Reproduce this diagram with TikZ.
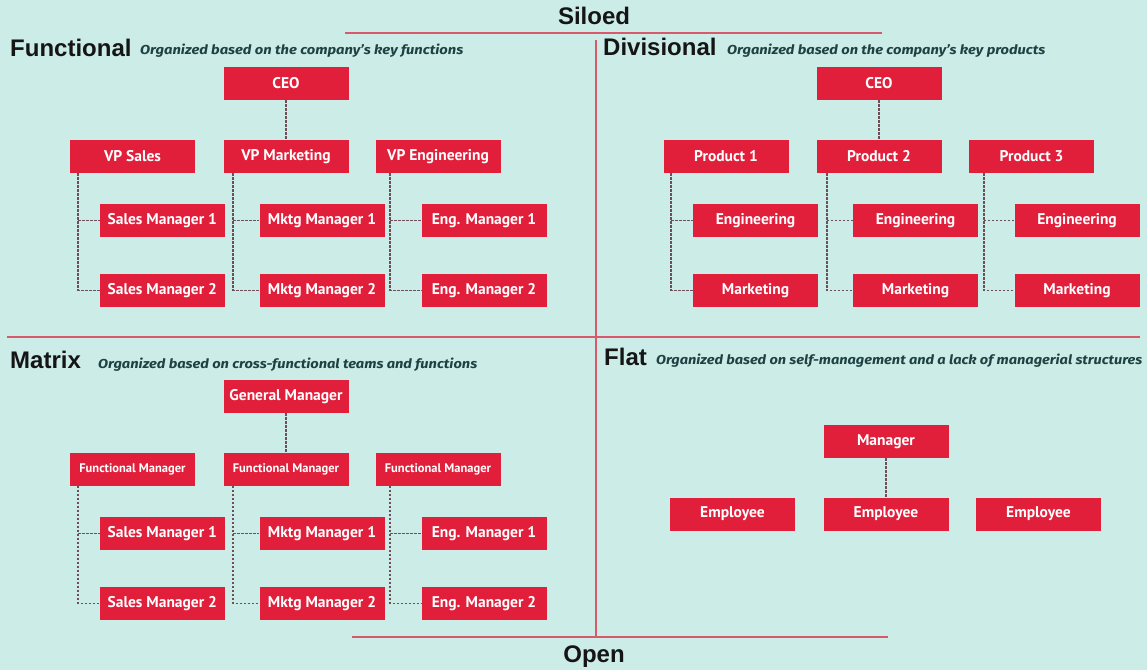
\documentclass[tikz,border=0pt]{standalone}
\usepackage{fontspec}
\newfontfamily\headfont{Liberation Sans}
\newfontfamily\boxfont{PT Sans}
\newfontfamily\subfont{Fira Sans}
\usetikzlibrary{calc}
\definecolor{bg}{HTML}{CCECE8}
\definecolor{boxred}{HTML}{E11F3B}
\definecolor{divline}{HTML}{D9596B}
\definecolor{conncol}{HTML}{6E4E58}
\definecolor{subcol}{HTML}{1E4242}
\definecolor{headcol}{HTML}{151515}
\begin{document}
\begin{tikzpicture}[x=1pt,y=-1pt,
 orgbox/.style={rectangle, fill=boxred, minimum width=125pt, minimum height=33pt, inner sep=0pt, text=white, font=\boxfont\bfseries\fontsize{15.5}{15.5}\selectfont},
 smallbox/.style={orgbox, font=\boxfont\bfseries\fontsize{12.5}{12.5}\selectfont},
 conn/.style={draw=conncol, line width=1.7pt, dash pattern=on 2.5pt off 1.5pt},
 divider/.style={draw=divline, line width=2pt},
 head/.style={anchor=base west, inner sep=0pt, text=headcol, font=\headfont\bfseries\fontsize{24}{24}\selectfont},
 sub/.style={anchor=base west, inner sep=0pt, text=subcol, font=\subfont\bfseries\itshape\fontsize{13}{13}\selectfont}]
\useasboundingbox (0,0) rectangle (1147,670);
\fill[bg] (0,0) rectangle (1147,670);

% dividers
\coordinate (topL) at (345,33);
\coordinate (topR) at (882,33);
\coordinate (vTop) at (596,40);
\coordinate (vBot) at (596,637);
\coordinate (midL) at (7,337);
\coordinate (midR) at (1140,337);
\coordinate (botL) at (352,637);
\coordinate (botR) at (888,637);
\draw[divider] (topL) -- (topR);
\draw[divider] (vTop) -- (vBot);
\draw[divider] (midL) -- (midR);
\draw[divider] (botL) -- (botR);

% titles
\node[anchor=base, inner sep=0pt, text=headcol, font=\headfont\bfseries\fontsize{24}{24}\selectfont] (siloed) at (594,24.5) {Siloed};
\node[anchor=base, inner sep=0pt, text=headcol, font=\headfont\bfseries\fontsize{24}{24}\selectfont] (open) at (594,662) {Open};

\node[head] (hFun) at (10,56) {Functional};
\node[sub] (sFun) at (140,54) {\resizebox{323pt}{\height}{Organized based on the company’s key functions}};
\node[head] (hDiv) at (603,55) {Divisional};
\node[sub] (sDiv) at (727,54) {\resizebox{318pt}{\height}{Organized based on the company’s key products}};
\node[head] (hMat) at (10,368) {Matrix};
\node[sub] (sMat) at (98,368) {\resizebox{379pt}{\height}{Organized based on cross-functional teams and functions}};
\node[head] (hFlat) at (604,365) {Flat};
\node[sub] (sFlat) at (656,364) {\resizebox{486pt}{\height}{Organized based on self-management and a lack of managerial structures}};

% ---------- Functional ----------
\node[orgbox] (ceoA) at (286,83.5) {CEO};
\node[orgbox] (vpS) at (132.5,156.5) {VP Sales};
\node[orgbox] (vpM) at (286,156.5) {VP Marketing};
\node[orgbox] (vpE) at (438,156.5) {VP Engineering};
\node[orgbox] (sm1) at (162.3,220.5) {Sales Manager 1};
\node[orgbox] (sm2) at (162.3,290.5) {Sales Manager 2};
\node[orgbox] (mm1) at (322,220.5) {Mktg Manager 1};
\node[orgbox] (mm2) at (322,290.5) {Mktg Manager 2};
\node[orgbox] (em1) at (484,220.5) {Eng. Manager 1};
\node[orgbox] (em2) at (484,290.5) {Eng. Manager 2};
\draw[conn] (ceoA.south) -- (vpM.north);
\coordinate (tS) at ([xshift=8.5pt]vpS.south west);
\coordinate (tM) at ([xshift=10pt]vpM.south west);
\coordinate (tE) at ([xshift=15pt]vpE.south west);
\draw[conn] (tS) |- (sm2.west);
\draw[conn] (tS |- sm1.west) -- (sm1.west);
\draw[conn] (tM) |- (mm2.west);
\draw[conn] (tM |- mm1.west) -- (mm1.west);
\draw[conn] (tE) |- (em2.west);
\draw[conn] (tE |- em1.west) -- (em1.west);

% ---------- Divisional ----------
\node[orgbox] (ceoB) at (879,83.5) {CEO};
\node[orgbox] (p1) at (726,156.5) {Product 1};
\node[orgbox] (p2) at (879,156.5) {Product 2};
\node[orgbox] (p3) at (1031.5,156.5) {Product 3};
\node[orgbox] (en1) at (755.5,220.5) {Engineering};
\node[orgbox] (mk1) at (755.5,290.5) {Marketing};
\node[orgbox] (en2) at (915.5,220.5) {Engineering};
\node[orgbox] (mk2) at (915.5,290.5) {Marketing};
\node[orgbox] (en3) at (1077,220.5) {Engineering};
\node[orgbox] (mk3) at (1077,290.5) {Marketing};
\draw[conn] (ceoB.south) -- (p2.north);
\coordinate (t1) at ([xshift=8pt]p1.south west);
\coordinate (t2) at ([xshift=10.5pt]p2.south west);
\coordinate (t3) at ([xshift=15pt]p3.south west);
\draw[conn] (t1) |- (mk1.west);
\draw[conn] (t1 |- en1.west) -- (en1.west);
\draw[conn] (t2) |- (mk2.west);
\draw[conn] (t2 |- en2.west) -- (en2.west);
\draw[conn] (t3) |- (mk3.west);
\draw[conn] (t3 |- en3.west) -- (en3.west);

% ---------- Matrix ----------
\node[orgbox] (gm) at (286,396.5) {General Manager};
\node[smallbox] (fm1) at (132.5,469) {Functional Manager};
\node[smallbox] (fm2) at (286,469) {Functional Manager};
\node[smallbox] (fm3) at (438,469) {Functional Manager};
\node[orgbox] (xs1) at (162.3,533.5) {Sales Manager 1};
\node[orgbox] (xs2) at (162.3,603.5) {Sales Manager 2};
\node[orgbox] (xm1) at (322,533.5) {Mktg Manager 1};
\node[orgbox] (xm2) at (322,603.5) {Mktg Manager 2};
\node[orgbox] (xe1) at (484,533.5) {Eng. Manager 1};
\node[orgbox] (xe2) at (484,603.5) {Eng. Manager 2};
\draw[conn] (gm.south) -- (fm2.north);
\coordinate (u1) at ([xshift=8.5pt]fm1.south west);
\coordinate (u2) at ([xshift=10pt]fm2.south west);
\coordinate (u3) at ([xshift=15pt]fm3.south west);
\draw[conn] (u1) |- (xs2.west);
\draw[conn] (u1 |- xs1.west) -- (xs1.west);
\draw[conn] (u2) |- (xm2.west);
\draw[conn] (u2 |- xm1.west) -- (xm1.west);
\draw[conn] (u3) |- (xe2.west);
\draw[conn] (u3 |- xe1.west) -- (xe1.west);

% ---------- Flat ----------
\node[orgbox] (mgr) at (886,441.3) {Manager};
\node[orgbox] (e1) at (732.5,514) {Employee};
\node[orgbox] (e2) at (886,514) {Employee};
\node[orgbox] (e3) at (1038.5,514) {Employee};
\draw[conn] (mgr.south) -- (e2.north);
\end{tikzpicture}
\end{document}
